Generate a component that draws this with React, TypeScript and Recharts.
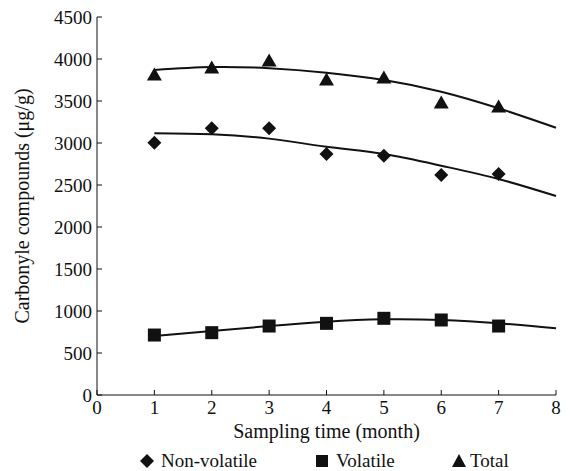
import {
  ComposedChart,
  Line,
  Scatter,
  XAxis,
  YAxis,
} from "recharts";

const months = [1, 2, 3, 4, 5, 6, 7, 8];
const yTicks = [0, 500, 1000, 1500, 2000, 2500, 3000, 3500, 4000, 4500];
const xTicks = [0, 1, 2, 3, 4, 5, 6, 7, 8];

// measured points (months 1-7)
const nonVolatile = [3003, 3175, 3175, 2869, 2849, 2619, 2631];
const volatile = [714, 742, 821, 853, 913, 893, 821];
const total = [3810, 3893, 3976, 3750, 3774, 3476, 3429];

// fitted curves (months 1-8)
const nonVolatileFit = [3115, 3103, 3052, 2956, 2869, 2730, 2571, 2369];
const volatileFit = [702, 762, 821, 873, 901, 893, 853, 794];
const totalFit = [3870, 3905, 3890, 3837, 3750, 3611, 3413, 3182];

const FONT = "'Liberation Serif', 'DejaVu Serif', serif";
const INK = "#111";

const fitData = months.map((m, i) => ({
  month: m,
  nonVolatileFit: nonVolatileFit[i],
  volatileFit: volatileFit[i],
  totalFit: totalFit[i],
}));

const pts = (vals: number[]) => vals.map((v, i) => ({ month: months[i], value: v }));

const Diamond = (p: any) => (
  <path d={`M${p.cx},${p.cy - 7} L${p.cx + 7},${p.cy} L${p.cx},${p.cy + 7} L${p.cx - 7},${p.cy} Z`} fill={INK} />
);
const Square = (p: any) => <rect x={p.cx - 6.5} y={p.cy - 6.5} width={13} height={13} fill={INK} />;
const Triangle = (p: any) => (
  <path d={`M${p.cx},${p.cy - 7.5} L${p.cx + 7.5},${p.cy + 5.5} L${p.cx - 7.5},${p.cy + 5.5} Z`} fill={INK} />
);

const YLabel = ({ viewBox }: any) => {
  const x = viewBox.x + 22;
  const y = viewBox.y + viewBox.height / 2;
  return (
    <text x={x} y={y} transform={`rotate(-90 ${x} ${y})`} textAnchor="middle" dominantBaseline="central"
      fontFamily={FONT} fontSize={20} fill={INK}>
      Carbonyle compounds (μg/g)
    </text>
  );
};

const XLabel = ({ viewBox }: any) => (
  <text x={viewBox.x + viewBox.width / 2} y={viewBox.y + 43} textAnchor="middle"
    fontFamily={FONT} fontSize={20} fill={INK}>
    Sampling time (month)
  </text>
);

const LegendRow = () => (
  <svg width={570} height={21} style={{ position: "absolute", left: 0, top: 450 }}>
    <path d="M147,4 L154,11 L147,18 L140,11 Z" fill={INK} />
    <text x={161} y={17} fontFamily={FONT} fontSize={19} fill={INK}>Non-volatile</text>
    <rect x={316} y={5} width={12} height={12} fill={INK} />
    <text x={336} y={17} fontFamily={FONT} fontSize={19} fill={INK}>Volatile</text>
    <path d="M459,4 L466,17 L452,17 Z" fill={INK} />
    <text x={470} y={17} fontFamily={FONT} fontSize={19} fill={INK}>Total</text>
  </svg>
);

const tick = { fill: INK, fontSize: 19, fontFamily: FONT };

export default function App() {
  return (
    <div style={{ position: "absolute", left: 0, top: 0, width: 570, height: 471, background: "#fff" }}>
      <ComposedChart width={570} height={471} data={fitData} margin={{ top: 17, right: 14, bottom: 0, left: 0 }}>
        <XAxis
          dataKey="month"
          type="number"
          domain={[0, 8]}
          ticks={xTicks}
          interval={0}
          height={76}
          tick={tick}
          tickSize={-5}
          tickMargin={11}
          stroke={INK}
          label={<XLabel />}
        />
        <YAxis
          type="number"
          domain={[0, 4500]}
          ticks={yTicks}
          interval={0}
          width={97}
          tick={tick}
          tickSize={-5}
          tickMargin={10}
          stroke={INK}
          label={<YLabel />}
        />
        <Line type="natural" dataKey="totalFit" stroke={INK} strokeWidth={2} dot={false} isAnimationActive={false} />
        <Line type="natural" dataKey="nonVolatileFit" stroke={INK} strokeWidth={2} dot={false} isAnimationActive={false} />
        <Line type="natural" dataKey="volatileFit" stroke={INK} strokeWidth={2} dot={false} isAnimationActive={false} />
        <Scatter data={pts(nonVolatile)} dataKey="value" shape={Diamond} isAnimationActive={false} />
        <Scatter data={pts(volatile)} dataKey="value" shape={Square} isAnimationActive={false} />
        <Scatter data={pts(total)} dataKey="value" shape={Triangle} isAnimationActive={false} />
      </ComposedChart>
      <LegendRow />
    </div>
  );
}
